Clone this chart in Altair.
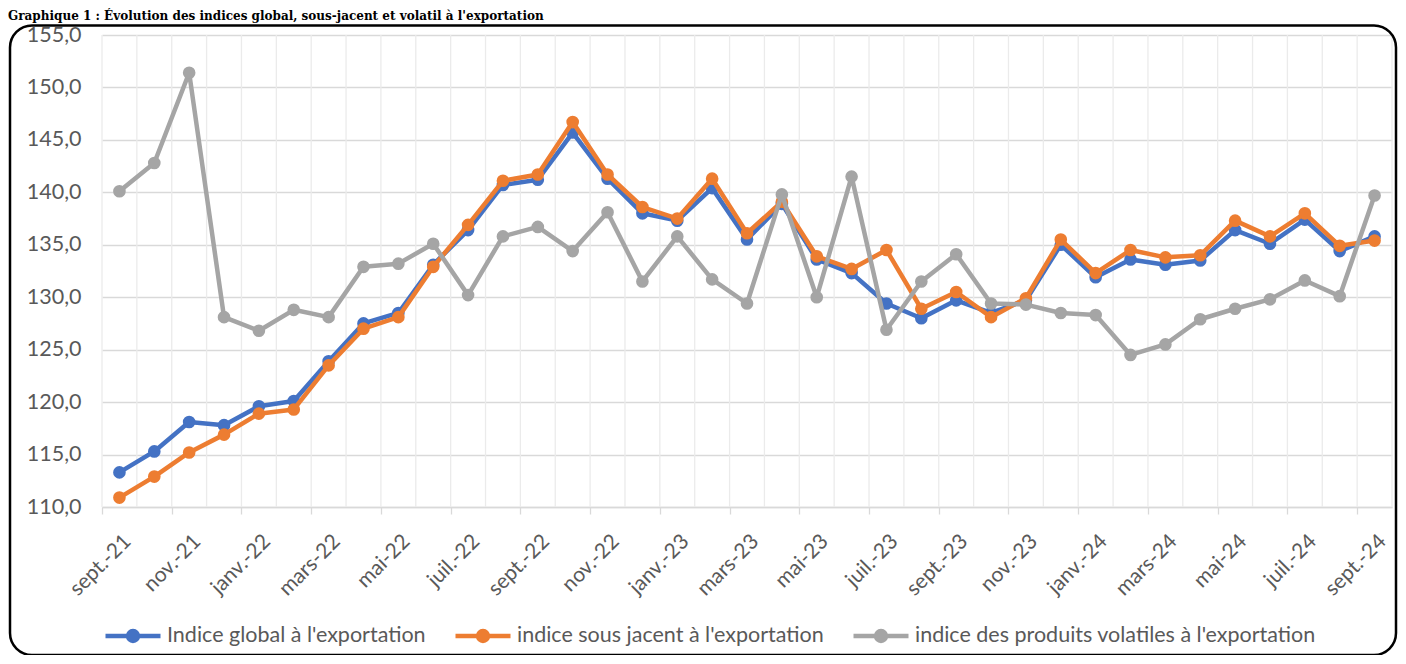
import json
import altair as alt
import pandas as pd

months = ['sept.-21', 'oct.-21', 'nov.-21', 'déc.-21', 'janv.-22', 'févr.-22', 'mars-22',
          'avr.-22', 'mai-22', 'juin-22', 'juil.-22', 'août-22', 'sept.-22', 'oct.-22',
          'nov.-22', 'déc.-22', 'janv.-23', 'févr.-23', 'mars-23', 'avr.-23', 'mai-23',
          'juin-23', 'juil.-23', 'août-23', 'sept.-23', 'oct.-23', 'nov.-23', 'déc.-23',
          'janv.-24', 'févr.-24', 'mars-24', 'avr.-24', 'mai-24', 'juin-24', 'juil.-24',
          'août-24', 'sept.-24']

global_idx = [113.3, 115.3, 118.1, 117.8, 119.6, 120.1, 123.9, 127.5, 128.5, 133.1,
              136.4, 140.7, 141.2, 145.7, 141.3, 138.0, 137.3, 140.4, 135.5, 138.9,
              133.6, 132.3, 129.4, 128.0, 129.7, 128.5, 129.7, 135.0, 131.9, 133.6,
              133.1, 133.5, 136.4, 135.1, 137.4, 134.4, 135.8]

sous_jacent = [110.9, 112.9, 115.2, 116.9, 118.9, 119.3, 123.5, 127.0, 128.1, 132.9,
               136.9, 141.1, 141.7, 146.7, 141.7, 138.6, 137.5, 141.3, 136.1, 139.1,
               133.9, 132.7, 134.5, 128.9, 130.5, 128.1, 129.9, 135.5, 132.3, 134.5,
               133.8, 134.0, 137.3, 135.8, 138.0, 134.9, 135.4]

volatiles = [140.1, 142.8, 151.4, 128.1, 126.8, 128.8, 128.1, 132.9, 133.2, 135.1,
             130.2, 135.8, 136.7, 134.4, 138.1, 131.5, 135.8, 131.7, 129.4, 139.8,
             130.0, 141.5, 126.9, 131.5, 134.1, 129.4, 129.3, 128.5, 128.3, 124.5,
             125.5, 127.9, 128.9, 129.8, 131.6, 130.1, 139.7]

series_names = ["Indice global à l'exportation",
                "indice sous jacent à l'exportation",
                "indice des produits volatiles à l'exportation"]
series_values = [global_idx, sous_jacent, volatiles]
series_colors = ['#4472C4', '#ED7D31', '#A5A5A5']

y_ticks = [110, 115, 120, 125, 130, 135, 140, 145, 150, 155]

title_text = "Graphique 1 : Évolution des indices global, sous-jacent et volatil à l'exportation"

# ---- tables built from the arrays ----
rows = []
for name, vals in zip(series_names, series_values):
    for i, v in enumerate(vals):
        rows.append({'i': i, 'mois': months[i], 'serie': name, 'valeur': v})
df = pd.DataFrame(rows)

n = len(months)
bounds = pd.DataFrame({'b': [k - 0.5 for k in range(n + 1)]})
label_ticks = [k - 0.5 for k in range(0, n, 2)]

W, H = 1290, 472
FONT = 'Lato'
TXT = '#595959'
band = W / n

xscale = alt.Scale(domain=[-0.5, n - 0.5], nice=False, zero=False)
yscale = alt.Scale(domain=[min(y_ticks), max(y_ticks)], nice=False, zero=False)
cscale = alt.Scale(domain=series_names, range=series_colors)

x_axis = alt.Axis(values=label_ticks, grid=False, ticks=True, tickSize=7,
                  tickColor='#D9D9D9', tickWidth=1.3, domainColor='#D9D9D9',
                  domainWidth=1.3, labelExpr=f"{json.dumps(months)}[round(datum.value + 0.5)]",
                  labelOffset=band / 2 + 8, labelAngle=-45, labelAlign='right',
                  labelBaseline='middle', labelPadding=24, labelFont=FONT,
                  labelFontSize=21, labelColor=TXT, title=None, labelOverlap=False,
                  labelBound=False, labelFlush=False)
y_axis = alt.Axis(values=y_ticks, grid=True, gridColor='#D9D9D9', gridWidth=1.3,
                  ticks=False, domain=False,
                  labelExpr="replace(format(datum.value, '.1f'), '.', ',')",
                  labelFont=FONT, labelFontSize=21.5, labelColor=TXT, labelPadding=21,
                  title=None)

X = alt.X('i:Q', scale=xscale, axis=x_axis)
Y = alt.Y('valeur:Q', scale=yscale, axis=y_axis)

grid = alt.Chart(bounds).mark_rule(color='#EBEBEB', strokeWidth=1.3).encode(
    x=alt.X('b:Q', scale=xscale, axis=x_axis),
    y=alt.value(0), y2=alt.value(H))

frame = alt.Chart(pd.DataFrame({'a': [0]})).mark_rect(
    filled=False, stroke='black', strokeWidth=2.5, cornerRadius=22).encode(
    x=alt.value(-92), x2=alt.value(1294), y=alt.value(-9.5), y2=alt.value(620))

legend = alt.Legend(title=None, orient='none', legendX=1, legendY=571,
                    direction='horizontal',
                    symbolType='M-1,0L1,0M0.08,0A0.08,0.08,0,1,1,-0.08,0A0.08,0.08,0,1,1,0.08,0M0.18,0A0.18,0.18,0,1,1,-0.18,0A0.18,0.18,0,1,1,0.18,0',
                    symbolSize=3025, symbolStrokeWidth=4.5, labelFont=FONT,
                    labelFontSize=21.5, labelColor=TXT, labelOffset=4, columnPadding=20,
                    labelLimit=700)

layers = [grid, frame]
for k, name in enumerate(series_names):
    base = alt.Chart(df).transform_filter(alt.datum.serie == name)
    line = base.mark_line(strokeWidth=4.5, strokeJoin='round', strokeCap='round').encode(
        x=X, y=Y,
        color=alt.Color('serie:N', scale=cscale, legend=legend if k == 0 else None))
    pts = base.mark_circle(size=160, opacity=1).encode(
        x=X, y=Y,
        color=alt.Color('serie:N', scale=cscale, legend=None))
    layers += [line, pts]

chart = alt.layer(*layers).properties(
    width=W, height=H,
    autosize=alt.AutoSizeParams(type='none'),
    padding={'left': 94, 'top': 27, 'right': 6, 'bottom': 148},
    title=alt.TitleParams(title_text, anchor='start', frame='group', dx=-94, dy=12,
                          offset=4, baseline='alphabetic', font='DejaVu Serif',
                          fontWeight='bold', fontSize=12, color='black'),
).configure_view(stroke=None)

chart.save("out.html", embed_options={"renderer": "svg", "actions": False})
